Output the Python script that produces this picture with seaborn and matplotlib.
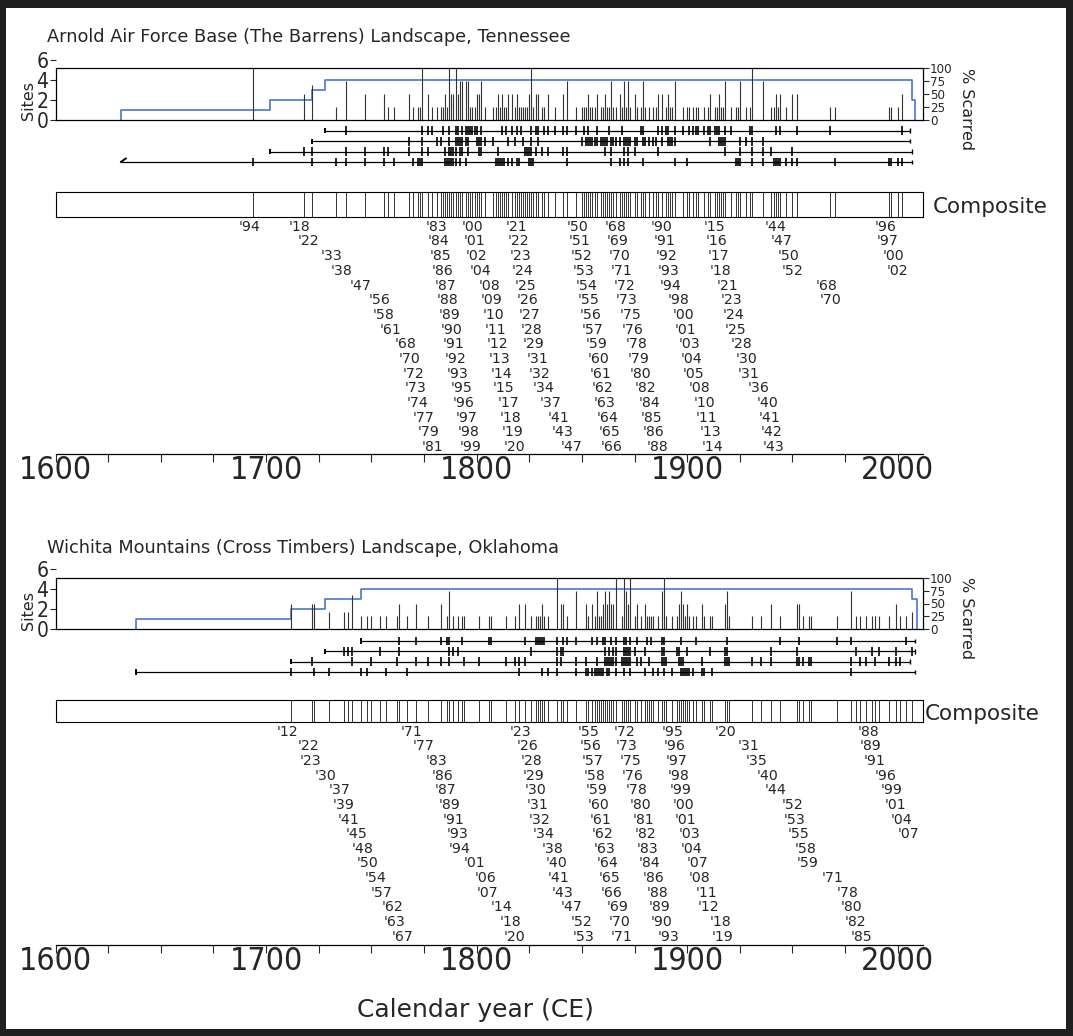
import numpy as np
import pandas as pd
import matplotlib
matplotlib.use("Agg")
import matplotlib.pyplot as plt
import seaborn as sns
from matplotlib.patches import Rectangle
from matplotlib import font_manager as fm

# ---------------- data ----------------
arnold_title = "Arnold Air Force Base (The Barrens) Landscape, Tennessee"
arnold_start = [1728, 1722, 1702, 1631]
arnold_end = [2006, 2006, 2007, 2007]
arnold_pith = [True, True, True, False]

arnold_s1 = [1738, 1774, 1777, 1779, 1784, 1787, 1790, 1791, 1793, 1795, 1796, 1797,
             1798, 1799, 1800, 1802, 1812, 1814, 1817, 1819, 1821, 1826, 1828, 1829,
             1832, 1834, 1837, 1841, 1843, 1847, 1851, 1853, 1857, 1863, 1869, 1878,
             1879, 1886, 1888, 1890, 1891, 1894, 1898, 1901, 1903, 1904, 1905, 1908,
             1910, 1911, 1913, 1914, 1915, 1918, 1921, 1930, 1931, 1942, 1944, 1952,
             1968, 2002]
arnold_s2 = [1768, 1774, 1781, 1783, 1787, 1790, 1791, 1792, 1793, 1795, 1796, 1800,
             1801, 1802, 1804, 1808, 1815, 1818, 1822, 1826, 1829, 1850, 1852, 1853,
             1854, 1855, 1856, 1857, 1859, 1860, 1861, 1862, 1864, 1865, 1866, 1868,
             1870, 1871, 1872, 1873, 1875, 1876, 1879, 1880, 1882, 1884, 1885, 1888,
             1891, 1892, 1893, 1894, 1911, 1915, 1916, 1917, 1918, 1925, 1928, 1931,
             1936]
arnold_s3 = [1718, 1722, 1738, 1747, 1756, 1758, 1768, 1774, 1777, 1785, 1787, 1788,
             1789, 1790, 1792, 1793, 1796, 1801, 1802, 1810, 1823, 1824, 1825, 1826,
             1828, 1831, 1834, 1841, 1843, 1861, 1864, 1870, 1872, 1875, 1886, 1918,
             1925, 1931, 1936, 1940, 1950]
arnold_s4 = [1694, 1722, 1733, 1738, 1747, 1756, 1761, 1770, 1772, 1773, 1774, 1785,
             1786, 1787, 1788, 1789, 1790, 1792, 1795, 1809, 1810, 1811, 1812, 1813,
             1815, 1817, 1819, 1820, 1825, 1826, 1827, 1843, 1864, 1868, 1870, 1872,
             1879, 1894, 1900, 1923, 1924, 1925, 1931, 1936, 1941, 1942, 1943, 1944,
             1947, 1950, 1952, 1970, 1996, 1997, 2000, 2002]

# composite fire years, in the label columns printed under the composite bar
arnold_cols = [
    [1694],
    [1718, 1722, 1733, 1738, 1747, 1756, 1758, 1761, 1768, 1770, 1772, 1773, 1774, 1777, 1779, 1781],
    [1783, 1784, 1785, 1786, 1787, 1788, 1789, 1790, 1791, 1792, 1793, 1795, 1796, 1797, 1798, 1799],
    [1800, 1801, 1802, 1804, 1808, 1809, 1810, 1811, 1812, 1813, 1814, 1815, 1817, 1818, 1819, 1820],
    [1821, 1822, 1823, 1824, 1825, 1826, 1827, 1828, 1829, 1831, 1832, 1834, 1837, 1841, 1843, 1847],
    [1850, 1851, 1852, 1853, 1854, 1855, 1856, 1857, 1859, 1860, 1861, 1862, 1863, 1864, 1865, 1866],
    [1868, 1869, 1870, 1871, 1872, 1873, 1875, 1876, 1878, 1879, 1880, 1882, 1884, 1885, 1886, 1888],
    [1890, 1891, 1892, 1893, 1894, 1898, 1900, 1901, 1903, 1904, 1905, 1908, 1910, 1911, 1913, 1914],
    [1915, 1916, 1917, 1918, 1921, 1923, 1924, 1925, 1928, 1930, 1931, 1936, 1940, 1941, 1942, 1943],
    [1944, 1947, 1950, 1952, 1968, 1970],
    [1996, 1997, 2000, 2002],
]

wichita_title = "Wichita Mountains (Cross Timbers) Landscape, Oklahoma"
wichita_start = [1745, 1728, 1712, 1638]
wichita_end = [2008, 2008, 2006, 2008]
wichita_pith = [True, True, True, True]

wichita_s1 = [1763, 1771, 1783, 1786, 1787, 1793, 1806, 1807, 1823, 1828, 1829, 1830,
              1831, 1832, 1838, 1841, 1843, 1847, 1855, 1857, 1860, 1861, 1864, 1866,
              1870, 1871, 1873, 1876, 1881, 1883, 1888, 1889, 1897, 1904, 1919, 1944,
              1953, 1971, 1978, 2004]
wichita_s2 = [1737, 1739, 1741, 1754, 1763, 1787, 1789, 1791, 1826, 1838, 1840, 1841,
              1861, 1863, 1865, 1866, 1870, 1871, 1872, 1873, 1875, 1880, 1888, 1889,
              1895, 1896, 1900, 1911, 1918, 1919, 1940, 1952, 1980, 1988, 1991, 1999,
              2007]
wichita_s3 = [1722, 1741, 1750, 1762, 1771, 1777, 1783, 1787, 1794, 1801, 1814, 1818,
              1820, 1823, 1838, 1840, 1847, 1852, 1857, 1861, 1862, 1863, 1864, 1865,
              1866, 1869, 1870, 1871, 1872, 1873, 1876, 1878, 1882, 1888, 1889, 1890,
              1896, 1897, 1898, 1907, 1918, 1919, 1920, 1931, 1935, 1940, 1952, 1953,
              1955, 1958, 1959, 1978, 1982, 1985, 1989, 1996, 1999, 2001]
wichita_s4 = [1712, 1723, 1730, 1745, 1748, 1757, 1767, 1820, 1831, 1834, 1838, 1847,
              1852, 1853, 1855, 1856, 1857, 1858, 1859, 1860, 1862, 1863, 1866, 1870,
              1873, 1880, 1884, 1886, 1889, 1893, 1897, 1898, 1899, 1900, 1901, 1903,
              1907, 1908, 1912, 1978]

wichita_cols = [
    [1712, 1722, 1723, 1730, 1737, 1739, 1741, 1745, 1748, 1750, 1754, 1757, 1762, 1763, 1767],
    [1771, 1777, 1783, 1786, 1787, 1789, 1791, 1793, 1794, 1801, 1806, 1807, 1814, 1818, 1820],
    [1823, 1826, 1828, 1829, 1830, 1831, 1832, 1834, 1838, 1840, 1841, 1843, 1847, 1852, 1853],
    [1855, 1856, 1857, 1858, 1859, 1860, 1861, 1862, 1863, 1864, 1865, 1866, 1869, 1870, 1871],
    [1872, 1873, 1875, 1876, 1878, 1880, 1881, 1882, 1883, 1884, 1886, 1888, 1889, 1890, 1893],
    [1895, 1896, 1897, 1898, 1899, 1900, 1901, 1903, 1904, 1907, 1908, 1911, 1912, 1918, 1919],
    [1920, 1931, 1935, 1940, 1944, 1952, 1953, 1955, 1958, 1959, 1971, 1978, 1980, 1982, 1985],
    [1988, 1989, 1991, 1996, 1999, 2001, 2004, 2007],
]

XMIN, XMAX = 1600, 2012
W, H = 1073, 1036
X0, X1 = 55.5, 923          # left / right edge of the plot boxes (px)

sns.set_style("white")
plt.rcParams['font.family'] = ['DejaVu Sans']
BLUE = '#4a76cf'


def pick_narrow():
    # the axis numbers in the figure are set in a narrow face
    for fam, st in [('Liberation Sans Narrow', 'normal'), ('DejaVu Sans', 'condensed')]:
        try:
            p = fm.findfont(fm.FontProperties(family=fam, stretch=st),
                            fallback_to_default=False)
        except Exception:
            continue
        if 'Narrow' in p or 'Condensed' in p:
            return fam, st, 1.0
    return 'DejaVu Sans', 'normal', 0.8


NFAM, NSTRETCH, NSCALE = pick_narrow()

fig = plt.figure(figsize=(W / 100, H / 100), dpi=100)
fig.patch.set_facecolor('#1f1f1f')
fig.add_artist(Rectangle((6 / W, 1 - 1029 / H), 1060 / W, 1021 / H,
                         transform=fig.transFigure, facecolor='white',
                         edgecolor='none', zorder=-5))


def px_axes(x0, y0, x1, y1):
    ax = fig.add_axes([x0 / W, 1 - y1 / H, (x1 - x0) / W, (y1 - y0) / H])
    ax.patch.set_alpha(0)
    return ax


def ftext(x, y, s, **kw):
    fig.text(x / W, 1 - y / H, s, **kw)


def narrow_labels(labels):
    for lbl in labels:
        lbl.set_fontfamily(NFAM)
        lbl.set_fontstretch(NSTRETCH)


def draw_panel(title, starts, ends, pith, scars, cols, g):
    comp = [y for c in cols for y in c]
    ftext(47, g['title'], title, fontsize=12.8, va='center')

    # ---- sample depth + % scarred ----
    h0, h1, top = g['hist']
    ax = px_axes(X0, h0, X1, h1)
    ax.set_xlim(XMIN, XMAX)
    ax.set_ylim(0, 6)
    ax.set_xticks([])
    ax.set_yticks([0, 2, 4, 6])
    for s in ['top', 'right']:
        ax.spines[s].set_visible(False)
    for s in ['left', 'bottom']:
        ax.spines[s].set_color('black')
        ax.spines[s].set_linewidth(0.9)
    ax.spines['left'].set_bounds(0, top)
    ax.axhline(top, color='black', lw=0.9)
    ax.tick_params(axis='y', direction='out', length=4, width=0.8, pad=1,
                   labelsize=15 * NSCALE, left=True)
    narrow_labels(ax.get_yticklabels())

    yrs = np.arange(min(starts), max(ends) + 2)
    depth = [sum(s <= y <= e for s, e in zip(starts, ends)) for y in yrs]
    xs = np.concatenate([[yrs[0]], yrs])
    ds = np.concatenate([[0], depth])
    sns.lineplot(x=xs, y=ds, ax=ax, estimator=None, sort=False,
                 drawstyle='steps-post', color=BLUE, lw=1.2)

    ax2 = ax.twinx()
    ax2.patch.set_alpha(0)
    ax2.set_ylim(0, 100 * 6 / top)
    ax2.set_xlim(XMIN, XMAX)
    for s in ['top', 'left', 'bottom']:
        ax2.spines[s].set_visible(False)
    ax2.spines['right'].set_bounds(0, 100)
    ax2.spines['right'].set_linewidth(0.9)
    ax2.spines['right'].set_color('black')
    ax2.set_yticks([0, 25, 50, 75, 100])
    ax2.tick_params(axis='y', direction='out', length=4, width=0.8, pad=1,
                    labelsize=9.5 * NSCALE, right=True)
    narrow_labels(ax2.get_yticklabels())
    pct = []
    for y in comp:
        rec = sum(s <= y <= e for s, e in zip(starts, ends))
        hit = sum(y in sc for sc in scars)
        pct.append(100.0 * hit / rec if rec else 0)
    ax2.vlines(comp, 0, pct, color='#333333', lw=0.8)

    ftext(28, g['sites_lab'], 'Sites', fontsize=11.5, rotation=90,
          ha='center', va='center')
    ftext(966, g['scar_lab'], '% Scarred', fontsize=11.5, rotation=270,
          ha='center', va='center')

    # ---- individual site records ----
    r0, r1, ry0, rdy = g['rows']
    axs = px_axes(X0, r0, X1, r1)
    axs.set_xlim(XMIN, XMAX)
    axs.set_ylim((r1 - ry0) / rdy, (r0 - ry0) / rdy)
    axs.axis('off')
    for i, (s, e, p, sc) in enumerate(zip(starts, ends, pith, scars)):
        axs.hlines(i, s, e, color='black', lw=0.9)
        axs.vlines(sc, i - 0.42, i + 0.42, color='black', lw=1.2)
        axs.vlines([e], i - 0.22, i + 0.22, color='black', lw=1.0)
        if p:
            axs.vlines([s], i - 0.25, i + 0.25, color='black', lw=1.4)
        else:
            axs.plot([s, s + 2.5], [i, i - 0.35], color='black', lw=1.4)

    # ---- composite ----
    c0, c1 = g['comp']
    axc = px_axes(X0, c0, X1, c1)
    axc.set_xlim(XMIN, XMAX)
    axc.set_ylim(0, 1)
    axc.set_xticks([])
    axc.set_yticks([])
    for s in axc.spines.values():
        s.set_color('black')
        s.set_linewidth(0.8)
    axc.vlines(comp, 0, 1, color='black', lw=0.55)
    ftext(g['comp_x'], (c0 + c1) / 2 + 3, 'Composite', fontsize=15.5, va='center')

    # ---- year labels and time axis ----
    l0, l1, ly0, ldy = g['labels']
    axl = px_axes(X0, l0, X1, l1)
    axl.set_xlim(XMIN, XMAX)
    axl.set_ylim((l1 - ly0) / ldy, (l0 - ly0) / ldy)
    for s in ['top', 'left', 'right']:
        axl.spines[s].set_visible(False)
    axl.spines['bottom'].set_color('black')
    axl.spines['bottom'].set_linewidth(0.9)
    for col in cols:
        for r, y in enumerate(col):
            axl.text(y - 2, r, "'%02d" % (y % 100), ha='center', va='center',
                     fontsize=10.2)
    ticks = np.arange(1600, 2001, 25)
    axl.set_xticks(ticks)
    axl.set_xticklabels([str(t) if t % 100 == 0 else '' for t in ticks])
    axl.set_yticks([])
    axl.tick_params(axis='x', direction='out', length=6, width=0.8, pad=-5,
                    labelsize=23 * NSCALE, bottom=True)
    narrow_labels(axl.get_xticklabels())


draw_panel(arnold_title, arnold_start, arnold_end, arnold_pith,
           [arnold_s1, arnold_s2, arnold_s3, arnold_s4], arnold_cols,
           dict(title=37, hist=(59.5, 120, 5.16), sites_lab=100, scar_lab=109,
                rows=(124, 168, 130.7, 10.43), comp=(191.7, 216.7), comp_x=933,
                labels=(218, 454, 226.7, 14.7)))

draw_panel(wichita_title, wichita_start, wichita_end, wichita_pith,
           [wichita_s1, wichita_s2, wichita_s3, wichita_s4], wichita_cols,
           dict(title=548, hist=(569, 629, 5.1), sites_lab=610, scar_lab=618,
                rows=(634, 678, 641, 10.33), comp=(700, 722), comp_x=925,
                labels=(724, 945, 731.7, 14.64)))

ftext(475, 1010, 'Calendar year (CE)', fontsize=18, ha='center', va='center')

fig.savefig('out.png', dpi=100, facecolor=fig.get_facecolor())
